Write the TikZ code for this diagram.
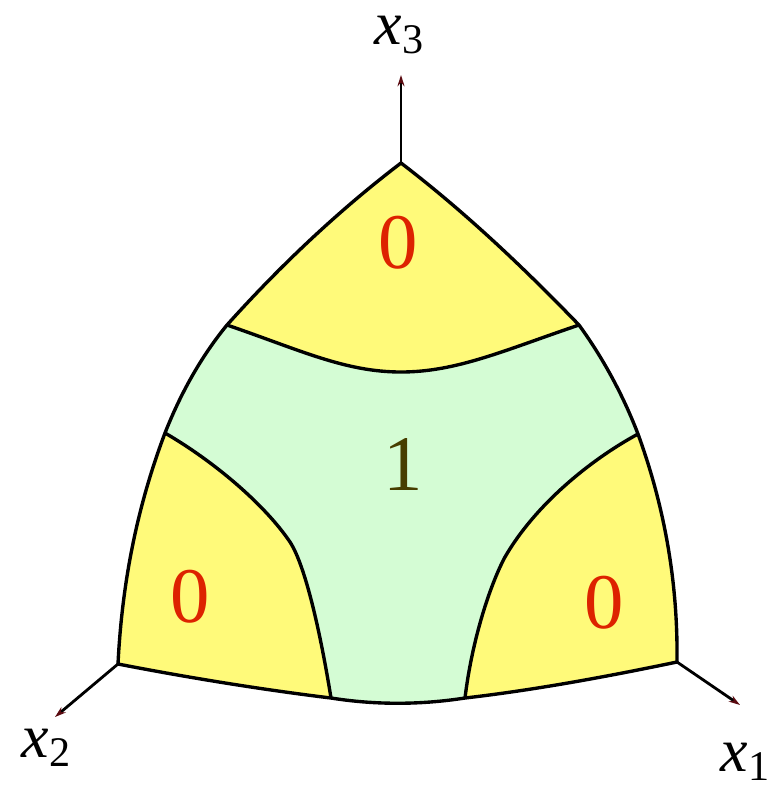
\documentclass[tikz,border=0pt]{standalone}
\usepackage{fontspec}
\setmainfont{Liberation Serif}
\usetikzlibrary{arrows.meta}
\definecolor{capyellow}{HTML}{FFFA7A}
\definecolor{capgreen}{HTML}{D4FCD4}
\definecolor{zerored}{HTML}{DD2200}
\definecolor{oneolive}{HTML}{473E00}
\definecolor{tipred}{HTML}{5A0A10}
\newcommand{\axlabel}[1]{\itshape x\/\raisebox{-6pt}{\fontsize{30}{32}\selectfont\upshape #1}}
\begin{document}
\begin{tikzpicture}[x=0.025cm, y=-0.025cm,
  every node/.style={font=\fontsize{56}{60}\selectfont, inner sep=0pt},
  edge/.style={draw=black, line width=2.4pt, line join=round},
  axis/.style={draw=black, line width=2pt, -{Stealth[length=8pt,width=5pt,color=tipred]}},
  axname/.style={font=\fontsize{44}{48}\selectfont},
  zero/.style={text=zerored},
  one/.style={text=oneolive}]
  \useasboundingbox (0,0) rectangle (782,790);
  \coordinate (T) at (401,163);
  \coordinate (A) at (227,325);
  \coordinate (B) at (165,433);
  \coordinate (L) at (118,664);
  \coordinate (C) at (579,325);
  \coordinate (E) at (638,434);
  \coordinate (R) at (677,662);
  \coordinate (D) at (331,698);
  \coordinate (F) at (465,698);
  \coordinate (K1) at (290,542);
  \coordinate (K2) at (505,557);
  \coordinate (t3) at (401,75);
  \coordinate (t2) at (55,717);
  \coordinate (t1) at (740,705);
  \fill[capyellow] (T) .. controls (465,212) and (523,267) .. (C)
    .. controls (603,358) and (623,395) .. (E)
    .. controls (665,508) and (678,584) .. (R)
    .. controls (610,676) and (535,690) .. (F)
    .. controls (420,705) and (375,705) .. (D)
    .. controls (265,690) and (190,678) .. (L)
    .. controls (122,583) and (137,507) .. (B)
    .. controls (180,395) and (200,358) .. (A)
    .. controls (280,266) and (338,211) .. (T) -- cycle;
  \fill[capgreen] (A) .. controls (300,350) and (345,372) .. (401,372)
    .. controls (457,372) and (505,350) .. (C)
    .. controls (603,358) and (623,395) .. (E)
    .. controls (590,460) and (535,505) .. (K2)
    .. controls (490,585) and (472,640) .. (F)
    .. controls (420,705) and (375,705) .. (D)
    .. controls (320,630) and (305,565) .. (K1)
    .. controls (265,505) and (215,462) .. (B)
    .. controls (180,395) and (200,358) .. (A) -- cycle;
  \draw[edge] (T) .. controls (465,212) and (523,267) .. (C)
    .. controls (603,358) and (623,395) .. (E)
    .. controls (665,508) and (678,584) .. (R)
    .. controls (610,676) and (535,690) .. (F)
    .. controls (420,705) and (375,705) .. (D)
    .. controls (265,690) and (190,678) .. (L)
    .. controls (122,583) and (137,507) .. (B)
    .. controls (180,395) and (200,358) .. (A)
    .. controls (280,266) and (338,211) .. (T) -- cycle;
  \draw[edge] (A) .. controls (300,350) and (345,372) .. (401,372)
    .. controls (457,372) and (505,350) .. (C);
  \draw[edge] (B) .. controls (215,462) and (265,505) .. (K1)
    .. controls (305,565) and (320,630) .. (D);
  \draw[edge] (E) .. controls (590,460) and (535,505) .. (K2)
    .. controls (490,585) and (472,640) .. (F);
  \draw[axis] (T) -- (t3);
  \draw[axis] (L) -- (t2);
  \draw[axis] (R) -- (t1);
  \node[axname] (x3) at (399,35) {\axlabel{3}};
  \node[axname] (x2) at (46,748) {\axlabel{2}};
  \node[axname] (x1) at (745,762) {\axlabel{1}};
  \node[zero] (ztop) at (398,243) {0};
  \node[one] (mid) at (403,464) {1};
  \node[zero] (zleft) at (190,597) {0};
  \node[zero] (zright) at (604,603) {0};
\end{tikzpicture}
\end{document}
